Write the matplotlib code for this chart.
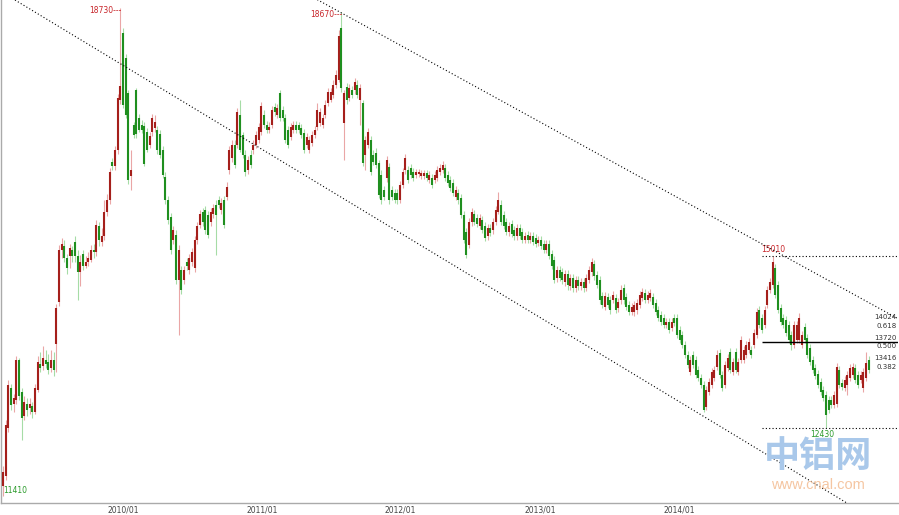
import matplotlib.pyplot as plt
import numpy as np
import pandas as pd

# weekly candles, red = up, green = down
start = '2009-02-20'

opens = [11560, 11710, 12430, 13030, 12790, 12850, 13450, 12970, 12610, 12790,
         12730, 12760, 12670, 13000, 13390, 13360, 13450, 13420, 13330, 13450,
         13690, 14320, 15100, 15160, 14980, 15010, 15100, 15220, 15010, 14770,
         15040, 14860, 14920, 14950, 15100, 15070, 15460, 15220, 15310, 15670,
         15850, 16420, 16360, 16600, 17350, 18355, 17980, 17455, 16210, 16975,
         17500, 17080, 16975, 16960, 16870, 16675, 16870, 16930, 16900, 16840,
         16600, 16195, 15850, 15595, 15250, 15325, 14650, 14800, 14650, 14920,
         14800, 14920, 14830, 15250, 15475, 15670, 15700, 15625, 15520, 15640,
         15775, 15850, 15700, 15850, 15895, 16300, 16480, 16675, 16675, 17125,
         16825, 16525, 16300, 16525, 16600, 16675, 16750, 16870, 17125, 16975,
         16900, 16975, 17245, 17125, 17455, 17200, 17080, 16900, 16795, 16900,
         16975, 16975, 16930, 16855, 16675, 16600, 16705, 16825, 16945, 17005,
         16975, 17125, 17305, 17350, 17425, 17575, 17650, 18430, 17005, 17545,
         17380, 17500, 17500, 17575, 17350, 17305, 16525, 16675, 16750, 16525,
         16555, 16405, 16225, 16000, 16180, 16345, 16000, 15955, 15955, 15850,
         16075, 16300, 16300, 16330, 16270, 16225, 16240, 16210, 16210, 16255,
         16150, 16180, 16150, 16180, 16270, 16300, 16330, 16225, 16150, 16105,
         15895, 15955, 15880, 15625, 15370, 15175, 15520, 15640, 15580, 15460,
         15550, 15460, 15310, 15430, 15400, 15520, 15670, 15775, 15625, 15520,
         15370, 15490, 15400, 15310, 15430, 15370, 15250, 15325, 15250, 15310,
         15280, 15205, 15250, 15190, 15100, 15190, 15040, 14950, 14680, 14800,
         14770, 14620, 14740, 14560, 14680, 14530, 14650, 14560, 14620, 14530,
         14650, 14770, 14890, 14725, 14650, 14410, 14245, 14395, 14350, 14350,
         14380, 14230, 14350, 14530, 14395, 14275, 14170, 14170, 14200, 14275,
         14380, 14455, 14350, 14380, 14395, 14305, 14200, 14125, 14080, 13975,
         14020, 13930, 14080, 14080, 13900, 13825, 13675, 13525, 13270, 13525,
         13450, 13300, 13180, 13075, 12745, 12970, 13075, 13180, 13345, 13555,
         13225, 13075, 13330, 13570, 13270, 13570, 13270, 13450, 13450, 13525,
         13600, 13600, 13675, 13825, 14200, 14080, 13975, 14275, 14500, 14575,
         14830, 14575, 14230, 14080, 14050, 13975, 13825, 13675, 13750, 13750,
         13675, 13945, 13780, 13630, 13450, 13330, 13240, 13120, 13000, 12925,
         12850, 12850, 12775, 12790, 13300, 13105, 13030, 13075, 13180, 13225,
         13330, 13225, 13150, 13030, 13180, 13450]

closes = [11770, 12475, 13075, 12775, 12880, 13450, 12910, 12580, 12820, 12700,
          12790, 12670, 13030, 13420, 13330, 13480, 13390, 13300, 13450, 13300,
          14230, 15100, 15190, 14980, 14830, 15130, 15010, 15010, 14770, 14920,
          14860, 14920, 14980, 15100, 15070, 15475, 15250, 15310, 15670, 15850,
          16270, 16360, 16600, 17380, 17560, 17275, 17125, 16150, 16300, 16825,
          16840, 16900, 16900, 16390, 16600, 16810, 17080, 17020, 16600, 16525,
          16225, 15850, 15550, 15100, 15400, 14650, 15100, 14500, 14800, 14860,
          14980, 15070, 15250, 15460, 15640, 15520, 15400, 15325, 15670, 15730,
          15625, 15775, 15805, 15475, 16045, 16600, 16675, 16375, 17170, 16600,
          16525, 16270, 16450, 16375, 16675, 16825, 16945, 17260, 16975, 16900,
          16945, 17200, 17170, 17230, 17080, 17080, 16750, 16675, 16945, 16975,
          16900, 16900, 16825, 16600, 16795, 16750, 16825, 16900, 17200, 17170,
          17080, 17275, 17470, 17470, 17575, 17725, 18310, 17530, 17455, 17350,
          17530, 17425, 17620, 17425, 17530, 16405, 16750, 16870, 16270, 16420,
          16375, 15925, 15850, 15895, 16450, 15850, 15895, 15850, 15850, 16075,
          16270, 16480, 16150, 16225, 16180, 16270, 16270, 16255, 16255, 16180,
          16225, 16075, 16225, 16300, 16330, 16375, 16180, 16105, 16030, 15955,
          16000, 15850, 15625, 15250, 15025, 15520, 15670, 15520, 15490, 15580,
          15400, 15280, 15430, 15355, 15520, 15700, 15850, 15520, 15460, 15370,
          15460, 15340, 15310, 15430, 15310, 15250, 15310, 15250, 15310, 15220,
          15190, 15250, 15160, 15100, 15190, 15010, 14860, 14650, 14800, 14680,
          14650, 14740, 14575, 14680, 14530, 14650, 14560, 14620, 14530, 14680,
          14800, 14920, 14710, 14575, 14350, 14275, 14410, 14275, 14200, 14425,
          14200, 14320, 14500, 14350, 14245, 14170, 14245, 14275, 14305, 14425,
          14470, 14350, 14425, 14455, 14275, 14170, 14080, 14020, 13975, 14020,
          13900, 14020, 14005, 13825, 13750, 13675, 13525, 13375, 13450, 13375,
          13225, 13180, 13075, 12700, 13000, 13120, 13270, 13300, 13525, 13225,
          13030, 13375, 13480, 13300, 13420, 13300, 13420, 13750, 13600, 13675,
          13720, 13525, 13855, 14170, 13975, 13900, 14200, 14500, 14620, 14920,
          14425, 14200, 14020, 13975, 13855, 13750, 13675, 13975, 13975, 14080,
          13825, 13750, 13525, 13420, 13300, 13210, 13075, 12970, 12880, 12625,
          12700, 12775, 12925, 13345, 13075, 13045, 13150, 13225, 13330, 13345,
          13150, 13075, 13225, 13270, 13405, 13300]

highs = [11860, 12550, 13150, 13090, 12940, 13510, 13480, 13030, 12910, 12880,
         12880, 12820, 13090, 13510, 13570, 13660, 13600, 13540, 13600, 13570,
         14290, 15175, 15280, 15250, 15040, 15190, 15160, 15310, 15100, 15025,
         15100, 15010, 15070, 15175, 15190, 15550, 15520, 15430, 15850, 15940,
         16330, 16480, 16660, 17440, 18730, 18430, 18040, 17500, 16600, 17020,
         17530, 17140, 17050, 17020, 16930, 16870, 17140, 17125, 16960, 16900,
         16660, 16270, 15910, 15655, 15460, 15400, 15175, 14860, 14860, 14980,
         15040, 15130, 15310, 15520, 15700, 15730, 15760, 15685, 15730, 15790,
         15850, 15910, 15880, 15910, 16120, 16660, 16750, 16750, 17230, 17350,
         16870, 16600, 16510, 16600, 16750, 16885, 17005, 17320, 17200, 17035,
         17020, 17260, 17305, 17290, 17500, 17260, 17140, 16960, 17005, 17035,
         17035, 17020, 16990, 16915, 16855, 16810, 16885, 16960, 17305, 17230,
         17140, 17350, 17530, 17530, 17650, 17800, 18400, 18670, 17500, 17605,
         17590, 17560, 17680, 17650, 17590, 17350, 16810, 16930, 16810, 16600,
         16630, 16450, 16300, 16060, 16510, 16405, 16060, 16015, 16015, 16135,
         16330, 16540, 16360, 16390, 16330, 16315, 16315, 16300, 16300, 16300,
         16285, 16240, 16285, 16360, 16390, 16435, 16390, 16285, 16210, 16165,
         16060, 16015, 15940, 15685, 15430, 15580, 15730, 15700, 15640, 15640,
         15610, 15520, 15490, 15490, 15580, 15760, 15970, 15850, 15685, 15580,
         15520, 15550, 15460, 15490, 15490, 15430, 15370, 15385, 15370, 15370,
         15340, 15310, 15310, 15250, 15250, 15250, 15100, 15010, 14860, 14860,
         14830, 14800, 14800, 14740, 14740, 14710, 14710, 14680, 14680, 14740,
         14860, 14980, 14950, 14785, 14710, 14470, 14470, 14455, 14410, 14485,
         14440, 14380, 14575, 14590, 14455, 14335, 14305, 14335, 14365, 14485,
         14530, 14515, 14485, 14515, 14455, 14365, 14260, 14185, 14140, 14080,
         14080, 14080, 14140, 14140, 13960, 13885, 13735, 13585, 13510, 13585,
         13510, 13360, 13240, 13135, 13060, 13180, 13330, 13360, 13600, 13615,
         13285, 13435, 13540, 13630, 13480, 13630, 13480, 13810, 13660, 13735,
         13780, 13660, 13915, 14230, 14260, 14140, 14260, 14560, 14680, 15010,
         14890, 14635, 14290, 14140, 14110, 14035, 13885, 14035, 14035, 14155,
         13885, 14005, 13840, 13690, 13510, 13390, 13300, 13180, 13060, 12985,
         12910, 12910, 12985, 13405, 13360, 13165, 13210, 13285, 13390, 13405,
         13390, 13285, 13285, 13330, 13570, 13510]

lows = [11410, 11650, 12370, 12700, 12670, 12790, 12850, 12250, 12550, 12610,
        12640, 12580, 12640, 12970, 13270, 13300, 13330, 13240, 13270, 13210,
        13270, 14260, 14980, 14920, 14740, 14830, 14920, 14920, 14350, 14560,
        14800, 14830, 14860, 14920, 14980, 15010, 15160, 15160, 15250, 15610,
        15790, 16300, 16300, 16540, 17290, 17230, 17080, 16090, 16000, 16780,
        16780, 16870, 16855, 16360, 16570, 16630, 16810, 16870, 16540, 16480,
        16180, 15790, 15490, 15040, 15190, 14590, 13825, 14440, 14590, 14800,
        14740, 14860, 14770, 15190, 15430, 15460, 15340, 15280, 15460, 15580,
        15025, 15730, 15640, 15430, 15850, 16240, 16420, 16330, 16630, 16570,
        16480, 16210, 16240, 16330, 16540, 16630, 16705, 16825, 16930, 16855,
        16855, 16930, 17110, 17080, 17035, 17035, 16705, 16630, 16750, 16855,
        16855, 16855, 16780, 16555, 16630, 16555, 16660, 16780, 16900, 16960,
        16930, 17080, 17260, 17320, 17380, 17530, 17620, 17470, 16450, 17290,
        17335, 17380, 17440, 17380, 16975, 16360, 16300, 16630, 16225, 16375,
        16330, 15880, 15790, 15850, 16120, 15790, 15850, 15805, 15790, 15805,
        16030, 16240, 16105, 16180, 16135, 16180, 16195, 16165, 16165, 16135,
        16105, 16030, 16105, 16135, 16225, 16255, 16135, 16060, 15985, 15910,
        15850, 15790, 15580, 15205, 14980, 15130, 15460, 15475, 15445, 15415,
        15355, 15235, 15250, 15310, 15340, 15475, 15640, 15475, 15415, 15325,
        15310, 15295, 15250, 15250, 15265, 15205, 15205, 15205, 15205, 15175,
        15145, 15160, 15115, 15055, 15055, 14965, 14815, 14605, 14620, 14635,
        14590, 14560, 14500, 14500, 14470, 14470, 14500, 14500, 14470, 14485,
        14605, 14710, 14650, 14530, 14290, 14230, 14200, 14230, 14140, 14305,
        14155, 14170, 14290, 14290, 14200, 14125, 14125, 14110, 14140, 14230,
        14335, 14305, 14305, 14335, 14230, 14125, 14035, 13975, 13930, 13930,
        13855, 13885, 13960, 13780, 13705, 13630, 13480, 13330, 13225, 13330,
        13180, 13135, 13030, 12670, 12700, 12925, 13030, 13135, 13300, 13180,
        12985, 13030, 13285, 13255, 13225, 13255, 13225, 13405, 13405, 13480,
        13555, 13480, 13630, 13780, 13930, 13855, 13930, 14230, 14455, 14530,
        14380, 14155, 13975, 13930, 13810, 13705, 13600, 13630, 13705, 13705,
        13630, 13705, 13480, 13375, 13255, 13165, 13030, 12925, 12835, 12430,
        12655, 12730, 12730, 12745, 13030, 13000, 12985, 12925, 13135, 13180,
        13105, 13030, 13105, 12970, 13135, 13255]

tick_years = [2010, 2011, 2012, 2013, 2014]
fib_ratios = [0.618, 0.5, 0.382]

# channel lines (bar index, price)
upper_line = ([118, 336], [18855, 14070])
lower_line = ([4.5, 330], [18850, 10986])

dates = pd.date_range(start, periods=len(closes), freq='7D')
x = np.arange(len(closes))
o = np.array(opens)
c = np.array(closes)
up = c >= o

fig = plt.figure(figsize=(8.99, 5.15), dpi=100)
ax = fig.add_axes([1 / 899, 12 / 515, 897 / 899, 503 / 515])

ax.vlines(x, lows, highs, colors=np.where(up, '#eaa6a6', '#a6dca6'), lw=0.8, zorder=2)
ax.vlines(x, o, c, colors=np.where(up, '#a51f1b', '#1f8f1f'), lw=1.5, zorder=3)

dots = (0, (1, 2))
ax.plot(*upper_line, color='black', lw=0.8, ls=dots, zorder=4)
ax.plot(*lower_line, color='black', lw=0.8, ls=dots, zorder=4)

# marked highs / lows
top1 = int(np.argmax(highs[:80]))
top2 = int(np.argmax(highs[80:200])) + 80
top3 = int(np.argmax(highs[250:])) + 250
bottom = int(np.argmin(lows[290:])) + 290
red = '#c8252a'
green = '#2a9a2a'
for t in (top1, top2):
    ax.text(t + 0.5, highs[t] - 40, f'{highs[t]}---', ha='right', va='center',
            color=red, fontsize=5.5)
hi, lo = highs[top3], lows[bottom]
ax.text(top3, hi + 25, str(hi), ha='center', va='bottom', color=red, fontsize=5.5)
ax.text(bottom - 1.5, lo - 25, str(lo), ha='center', va='top', color=green, fontsize=5.5)
ax.text(0.2, lows[0] + 10, str(lows[0]), ha='left', va='bottom', color=green, fontsize=5.5)

x0, x1 = 285, 336
ax.hlines([hi, lo], x0, x1, color='black', lw=0.8, linestyles=[dots], zorder=4)
for r in fib_ratios:
    lvl = lo + r * (hi - lo)
    if r == 0.5:
        ax.hlines(lvl, x0, x1, color='black', lw=1.0, zorder=4)
    ax.text(335.4, lvl + 22, f'{lvl:.0f}', ha='right', va='bottom', color='#333333', fontsize=5)
    ax.text(335.4, lvl - 22, f'{r:.3f}', ha='right', va='top', color='#333333', fontsize=5)

# watermark
fig.text(818 / 899, 1 - 457 / 515, '中铝网', ha='center', va='center', fontsize=26,
         fontweight='bold', color='#a9c8ea', family=['Noto Sans CJK SC', 'DejaVu Sans'], zorder=0)
fig.text(818 / 899, 1 - 485 / 515, 'www.cnal.com', ha='center', va='center', fontsize=10.5,
         color='#f5c6a2', family=['Liberation Sans', 'DejaVu Sans'], zorder=0)

ticks = [(pd.Timestamp(f'{y}-01-01') - dates[0]).days / 7 for y in tick_years]
ax.set_xticks(ticks)
ax.set_xticklabels([f'{y}/01' for y in tick_years])
ax.tick_params(axis='x', length=0, labelsize=5.5, colors='#444444', pad=1.5)
ax.set_yticks([])
ax.set_xlim(-0.75, 336)
ax.set_ylim(18850 - 15 * 503, 18850)
for s in ('top', 'right'):
    ax.spines[s].set_visible(False)
for s in ('left', 'bottom'):
    ax.spines[s].set_color('#aaaaaa')
    ax.spines[s].set_linewidth(1.0)
ax.patch.set_alpha(0)

fig.savefig('out.png', dpi=100)
